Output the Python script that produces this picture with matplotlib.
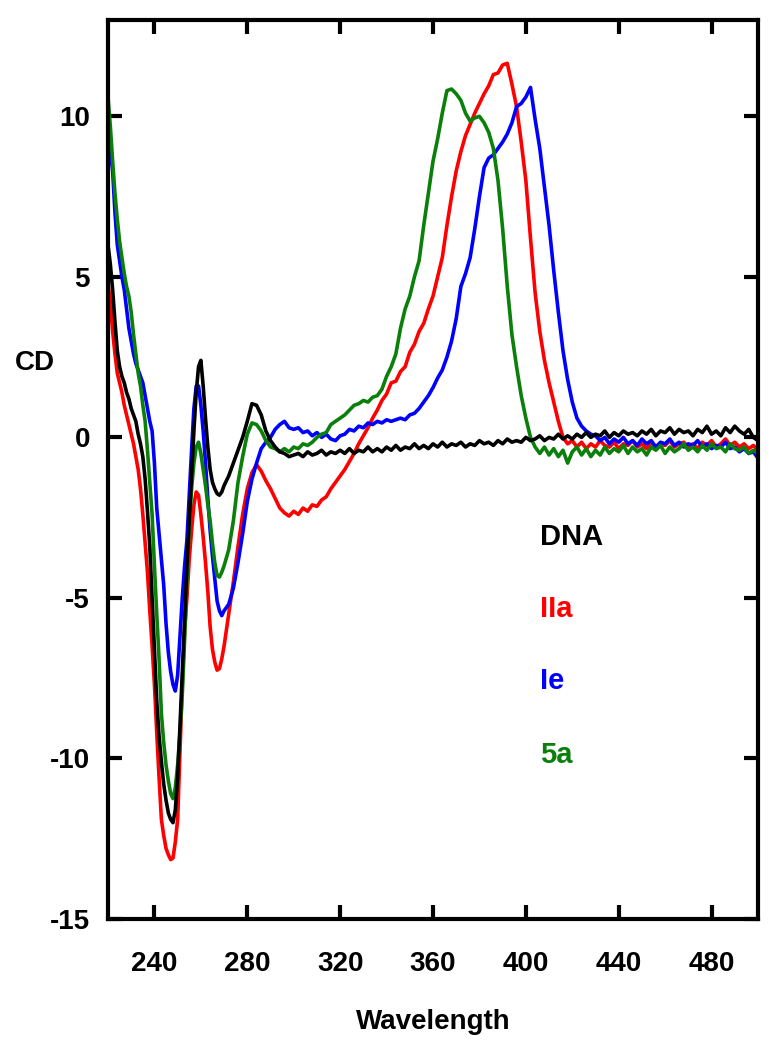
import matplotlib
matplotlib.use("Agg")
import matplotlib.pyplot as plt

# wavelength grid (nm): 1 nm steps up to 270, then 2 nm steps
wavelength = [220, 221, 222, 223, 224, 225, 226, 227, 228, 229,
              230, 231, 232, 233, 234, 235, 236, 237, 238, 239,
              240, 241, 242, 243, 244, 245, 246, 247, 248, 249,
              250, 251, 252, 253, 254, 255, 256, 257, 258, 259,
              260, 261, 262, 263, 264, 265, 266, 267, 268, 269, 270,
              272, 274, 276, 278, 280, 282, 284, 286, 288, 290, 292, 294, 296, 298,
              300, 302, 304, 306, 308, 310, 312, 314, 316, 318,
              320, 322, 324, 326, 328, 330, 332, 334, 336, 338,
              340, 342, 344, 346, 348, 350, 352, 354, 356, 358,
              360, 362, 364, 366, 368, 370, 372, 374, 376, 378,
              380, 382, 384, 386, 388, 390, 392, 394, 396, 398,
              400, 402, 404, 406, 408, 410, 412, 414, 416, 418,
              420, 422, 424, 426, 428, 430, 432, 434, 436, 438,
              440, 442, 444, 446, 448, 450, 452, 454, 456, 458,
              460, 462, 464, 466, 468, 470, 472, 474, 476, 478,
              480, 482, 484, 486, 488, 490, 492, 494, 496, 498, 500]

cd_dna = [6.0, 5.4, 4.6, 3.6, 2.7, 2.2, 1.9, 1.7, 1.4, 1.2,
          0.9, 0.7, 0.5, 0.1, -0.2, -0.6, -1.3, -2.3, -3.4, -5.0,
          -6.6, -8.2, -9.3, -10.1, -10.8, -11.3, -11.7, -11.9, -12.0, -11.6,
          -10.6, -9.0, -7.3, -5.7, -4.0, -2.6, -1.2, 0.2, 1.4, 2.2,
          2.4, 1.6, 0.6, -0.3, -1.0, -1.4, -1.6, -1.75, -1.8, -1.7, -1.5,
          -1.2, -0.8, -0.4, 0.0, 0.5, 1.05, 1.0, 0.7, 0.2, -0.1, -0.3, -0.45, -0.5, -0.6,
          -0.55, -0.5, -0.6, -0.45, -0.55, -0.5, -0.4, -0.55, -0.45, -0.5,
          -0.4, -0.5, -0.35, -0.5, -0.4, -0.45, -0.3, -0.45, -0.35, -0.45,
          -0.3, -0.4, -0.25, -0.4, -0.3, -0.35, -0.2, -0.35, -0.25, -0.35,
          -0.2, -0.3, -0.15, -0.3, -0.2, -0.25, -0.15, -0.3, -0.2, -0.25,
          -0.1, -0.2, -0.15, -0.25, -0.1, -0.2, -0.05, -0.15, -0.1, -0.15,
          0.0, -0.1, -0.05, 0.05, -0.1, 0.0, -0.05, 0.1, -0.05, 0.05,
          -0.05, 0.1, 0.0, 0.15, 0.0, 0.1, 0.05, 0.2, 0.0, 0.15,
          0.05, 0.2, 0.1, 0.15, 0.05, 0.2, 0.1, 0.25, 0.05, 0.2,
          0.15, 0.3, 0.1, 0.25, 0.15, 0.2, 0.05, 0.25, 0.15, 0.35,
          0.1, 0.2, 0.05, 0.3, 0.15, 0.35, 0.2, 0.1, 0.25, 0.0, -0.1]

cd_IIa = [4.8, 4.2, 3.3, 2.6, 2.0, 1.7, 1.4, 1.0, 0.7, 0.4,
          0.1, -0.2, -0.6, -1.0, -1.6, -2.4, -3.3, -4.2, -5.4, -6.5,
          -7.7, -9.2, -10.6, -11.9, -12.4, -12.8, -13.0, -13.15, -13.1, -12.6,
          -11.9, -9.8, -7.7, -6.0, -5.0, -3.8, -2.9, -2.1, -1.7, -1.8,
          -2.4, -3.1, -3.9, -4.8, -5.9, -6.6, -7.0, -7.25, -7.2, -6.9, -6.5,
          -5.5, -4.5, -3.4, -2.4, -1.6, -1.1, -0.85, -1.05, -1.35, -1.6, -1.9, -2.2, -2.35, -2.45,
          -2.3, -2.4, -2.2, -2.3, -2.1, -2.15, -1.95, -1.85, -1.6, -1.4,
          -1.2, -1.0, -0.75, -0.5, -0.2, 0.05, 0.3, 0.6, 0.85, 1.15,
          1.35, 1.7, 1.75, 2.05, 2.2, 2.65, 2.9, 3.3, 3.55, 4.0,
          4.4, 5.0, 5.6, 6.6, 7.5, 8.3, 8.9, 9.4, 9.75, 10.1,
          10.4, 10.7, 10.95, 11.3, 11.35, 11.6, 11.65, 11.0, 10.3, 9.2,
          8.0, 6.2, 4.5, 3.3, 2.4, 1.7, 1.1, 0.5, 0.0, -0.2,
          -0.1, -0.3, -0.15, -0.35, -0.2, -0.3, -0.1, -0.25, -0.3, -0.15,
          -0.35, -0.2, -0.25, -0.1, -0.3, -0.2, -0.35, -0.15, -0.3, -0.2,
          -0.25, -0.1, -0.3, -0.2, -0.15, -0.3, -0.2, -0.35, -0.15, -0.25,
          -0.1, -0.3, -0.2, -0.05, -0.25, -0.15, -0.3, -0.2, -0.35, -0.25, -0.4]

cd_Ie = [9.4, 8.9, 8.3, 7.0, 6.0, 5.5, 5.0, 4.6, 4.0, 3.4,
         3.0, 2.6, 2.3, 2.1, 1.9, 1.7, 1.3, 0.9, 0.5, 0.2,
         -0.8, -2.2, -3.0, -3.8, -4.6, -5.8, -6.7, -7.3, -7.7, -7.9,
         -7.4, -6.2, -5.0, -4.0, -3.2, -1.8, -0.4, 0.9, 1.6, 1.6,
         1.0, 0.2, -0.8, -1.9, -2.9, -3.7, -4.4, -5.1, -5.4, -5.55, -5.4,
         -5.2, -4.7, -3.9, -3.0, -2.0, -1.3, -0.8, -0.35, -0.15, 0.0, 0.25, 0.4, 0.5, 0.3,
         0.25, 0.3, 0.15, 0.2, 0.05, 0.15, 0.0, 0.1, -0.05, -0.1,
         0.05, 0.1, 0.25, 0.2, 0.35, 0.3, 0.45, 0.4, 0.5, 0.45,
         0.55, 0.5, 0.55, 0.6, 0.55, 0.7, 0.75, 0.9, 1.1, 1.3,
         1.55, 1.85, 2.1, 2.5, 3.0, 3.7, 4.7, 5.1, 5.6, 6.5,
         7.5, 8.4, 8.7, 8.8, 9.0, 9.2, 9.45, 9.8, 10.3, 10.4,
         10.6, 10.9, 9.9, 9.0, 7.8, 6.6, 5.2, 3.9, 2.7, 1.8,
         1.1, 0.6, 0.35, 0.2, 0.1, 0.05, -0.1, 0.0, -0.2, -0.05,
         -0.15, 0.0, -0.2, -0.1, -0.25, -0.05, -0.2, -0.1, -0.3, -0.15,
         -0.2, -0.05, -0.25, -0.15, -0.3, -0.2, -0.25, -0.1, -0.3, -0.2,
         -0.35, -0.25, -0.3, -0.15, -0.35, -0.3, -0.45, -0.35, -0.5, -0.45, -0.65]

cd_5a = [10.6, 9.7, 8.6, 7.6, 6.8, 6.1, 5.6, 5.1, 4.7, 4.4,
         3.9, 3.2, 2.6, 2.0, 1.6, 1.0, 0.5, -0.4, -1.4, -2.4,
         -4.0, -5.5, -6.9, -8.6, -9.5, -10.2, -10.7, -11.1, -11.25, -10.9,
         -10.2, -9.2, -8.0, -6.3, -4.4, -2.8, -1.6, -0.8, -0.3, -0.15,
         -0.5, -1.0, -1.5, -2.1, -2.6, -3.3, -3.9, -4.3, -4.35, -4.2, -4.0,
         -3.5, -2.6, -1.4, -0.6, 0.1, 0.45, 0.4, 0.2, -0.1, -0.3, -0.35, -0.45, -0.35, -0.45,
         -0.3, -0.35, -0.2, -0.25, -0.15, 0.0, 0.1, 0.15, 0.4, 0.5,
         0.6, 0.7, 0.85, 1.0, 1.05, 1.15, 1.1, 1.25, 1.3, 1.5,
         1.9, 2.2, 2.6, 3.4, 4.0, 4.4, 5.0, 5.5, 6.6, 7.6,
         8.6, 9.3, 10.1, 10.8, 10.85, 10.7, 10.5, 10.1, 9.85, 9.95,
         10.0, 9.8, 9.5, 9.0, 8.0, 6.5, 4.7, 3.2, 2.2, 1.3,
         0.6, 0.0, -0.3, -0.5, -0.3, -0.55, -0.35, -0.6, -0.4, -0.8,
         -0.45, -0.3, -0.55, -0.35, -0.6, -0.4, -0.55, -0.3, -0.5, -0.35,
         -0.45, -0.25, -0.5, -0.3, -0.45, -0.35, -0.55, -0.3, -0.4, -0.25,
         -0.5, -0.3, -0.45, -0.35, -0.2, -0.4, -0.3, -0.45, -0.25, -0.4,
         -0.2, -0.35, -0.3, -0.45, -0.2, -0.35, -0.4, -0.3, -0.5, -0.4, -0.5]

names = ["DNA", "IIa", "Ie", "5a"]
colors = ["black", "#FF0000", "#0000FF", "#0A800A"]
label_y = [-3.1, -5.35, -7.6, -9.9]


def main():
    plt.rcParams['font.family'] = ['Liberation Sans', 'DejaVu Sans']
    plt.rcParams['font.weight'] = 'bold'
    plt.rcParams['axes.unicode_minus'] = False

    fig = plt.figure(figsize=(7.73, 10.5), dpi=100)
    ax = fig.add_axes([108 / 773, 131 / 1050, 650 / 773, 899 / 1050])

    # draw DNA last so it sits on top like in the original
    series = [cd_IIa, cd_Ie, cd_5a, cd_dna]
    for cd, c in zip(series, colors[1:] + colors[:1]):
        ax.plot(wavelength, cd, color=c, lw=2.6)

    for name, c, y in zip(names, colors, label_y):
        ax.text(406, y, name, color=c, fontsize=21, fontweight='bold',
                ha='left', va='center')

    ax.set_xlim(220, 500)
    ax.set_ylim(-15, 13)
    ax.set_xticks([240, 280, 320, 360, 400, 440, 480])
    ax.set_yticks([-15, -10, -5, 0, 5, 10])

    for s in ax.spines.values():
        s.set_linewidth(3)
    ax.tick_params(direction='in', length=10, width=3, top=True, right=True,
                   labelsize=20)
    ax.tick_params(axis='y', pad=13)
    ax.tick_params(axis='x', pad=23)

    ax.set_xlabel('Wavelength', fontsize=20, fontweight='bold', va='center')
    ax.xaxis.set_label_coords(0.5, -0.1146)
    ax.set_ylabel('CD', fontsize=20, fontweight='bold', rotation=0,
                  ha='center', va='center')
    ax.yaxis.set_label_coords(-0.112, 0.618)

    fig.savefig('out.png', dpi=100)


if __name__ == '__main__':
    main()
